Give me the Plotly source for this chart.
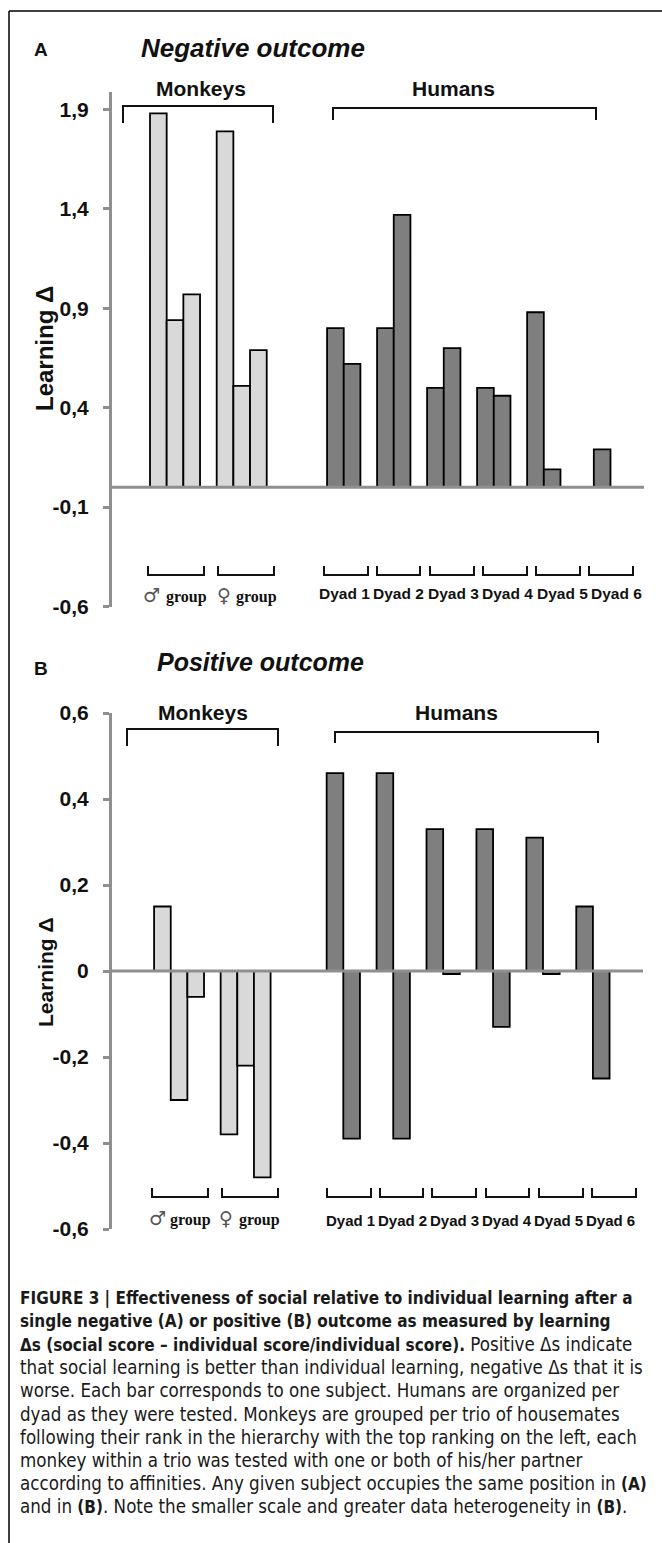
import plotly.graph_objects as go

W, H = 662, 1543

# ---------------- data ----------------
group_symbols = ["♂", "♀"]
group_word = "group"
dyad_labels = ["Dyad 1", "Dyad 2", "Dyad 3", "Dyad 4", "Dyad 5", "Dyad 6"]

# Panel A: negative outcome (learning delta)
neg_male = [1.88, 0.84, 0.97]
neg_female = [1.79, 0.51, 0.69]
neg_humans_a = [0.80, 0.80, 0.50, 0.50, 0.88, None]   # first member of each dyad
neg_humans_b = [0.62, 1.37, 0.70, 0.46, 0.09, 0.19]   # second member of each dyad

# Panel B: positive outcome
pos_male = [0.15, -0.30, -0.06]
pos_female = [-0.38, -0.22, -0.48]
pos_humans_a = [0.46, 0.46, 0.33, 0.33, 0.31, 0.15]
pos_humans_b = [-0.39, -0.39, -0.007, -0.13, -0.007, -0.25]

ticks_a_vals = [-0.6, -0.1, 0.4, 0.9, 1.4, 1.9]
ticks_a_text = ["-0,6", "-0,1", "0,4", "0,9", "1,4", "1,9"]
ticks_b_vals = [-0.6, -0.4, -0.2, 0, 0.2, 0.4, 0.6]
ticks_b_text = ["-0,6", "-0,4", "-0,2", "0", "0,2", "0,4", "0,6"]

caption_lines = [
    "<b>FIGURE 3 | Effectiveness of social relative to individual learning after a</b>",
    "<b>single negative (A) or positive (B) outcome as measured by learning</b>",
    "<b>Δs (social score – individual score/individual score).</b> Positive Δs indicate",
    "that social learning is better than individual learning, negative Δs that it is",
    "worse. Each bar corresponds to one subject. Humans are organized per",
    "dyad as they were tested. Monkeys are grouped per trio of housemates",
    "following their rank in the hierarchy with the top ranking on the left, each",
    "monkey within a trio was tested with one or both of his/her partner",
    "according to affinities. Any given subject occupies the same position in <b>(A)</b>",
    "and in <b>(B)</b>. Note the smaller scale and greater data heterogeneity in <b>(B)</b>.",
]

# ---------------- layout helpers ----------------
def px(x):
    return x / W

def py(y):
    return 1 - y / H

LIGHT = "#d9d9d9"
DARK = "#7f7f7f"
AXIS = "#8f8f8f"
SANS = "Liberation Sans, Arial, sans-serif"
SERIF = "Liberation Serif, Times New Roman, serif"
SYMBOL = "DejaVu Sans, Noto Sans, sans-serif"
NARROW = "DejaVu Sans Condensed, Liberation Sans Narrow, Liberation Sans"

X_RANGE = [-2.28, 29.63]

def monkey_x(offset):
    male = [0.5 + i + offset for i in range(3)]
    female = [4.5 + i + offset for i in range(3)]
    return male, female

def human_x(start=10.62):
    a = [start + 0.5 + 3 * k for k in range(6)]
    b = [start + 1.5 + 3 * k for k in range(6)]
    return a, b

fig = go.Figure()

def add_bars(xs, ys, color, xa, ya):
    fig.add_trace(go.Bar(
        x=xs, y=ys, width=1, xaxis=xa, yaxis=ya,
        marker=dict(color=color, line=dict(color="black", width=1.8)),
        showlegend=False, hoverinfo="skip"))

# Panel A
m_male, m_fem = monkey_x(0.0)
h_a, h_b = human_x()
add_bars(m_male + m_fem, neg_male + neg_female, LIGHT, "x", "y")
add_bars(h_a + h_b, neg_humans_a + neg_humans_b, DARK, "x", "y")

# Panel B
m_male2, m_fem2 = monkey_x(0.25)
add_bars(m_male2 + m_fem2, pos_male + pos_female, LIGHT, "x2", "y2")
add_bars(h_a + h_b, pos_humans_a + pos_humans_b, DARK, "x2", "y2")

xa_common = dict(range=X_RANGE, showgrid=False, zeroline=False, showline=False,
                 showticklabels=False, ticks="", fixedrange=True, automargin=False)
ya_common = dict(showgrid=False, zeroline=False, showline=True, linecolor=AXIS,
                 linewidth=3, ticks="outside", ticklen=6, tickwidth=3, tickcolor=AXIS,
                 tickfont=dict(family=SANS, size=21, color="#111"),
                 ticklabelstandoff=10, fixedrange=True, automargin=False)

fig.update_layout(
    width=W, height=H, autosize=False,
    margin=dict(l=0, r=0, t=0, b=0, pad=0),
    paper_bgcolor="white", plot_bgcolor="white",
    barmode="overlay",
    xaxis=dict(domain=[px(112), px(644)], anchor="y", **xa_common),
    yaxis=dict(domain=[py(606.5), py(92)], anchor="x", range=[-0.6, 1.988],
               tickmode="array", tickvals=ticks_a_vals,
               ticktext=["<b>%s</b>" % t for t in ticks_a_text], **ya_common),
    xaxis2=dict(domain=[px(112), px(643)], anchor="y2", **xa_common),
    yaxis2=dict(domain=[py(1229), py(713)], anchor="x2", range=[-0.6, 0.6],
                tickmode="array", tickvals=ticks_b_vals,
                ticktext=["<b>%s</b>" % t for t in ticks_b_text], **ya_common),
)

shapes = []
# zero lines drawn above bars
for xr, yr in (("x", "y"), ("x2", "y2")):
    shapes.append(dict(type="line", xref=xr, yref=yr, x0=X_RANGE[0], x1=X_RANGE[1],
                       y0=0, y1=0, line=dict(color=AXIS, width=3), layer="above"))

# frame
shapes.append(dict(type="line", xref="paper", yref="paper", x0=px(9), x1=px(662),
                   y0=py(11), y1=py(11), line=dict(color="black", width=1.5)))
shapes.append(dict(type="line", xref="paper", yref="paper", x0=px(9), x1=px(9),
                   y0=py(11), y1=py(1543), line=dict(color="black", width=1.5)))

def top_bracket(x0, x1, ytop, ybot):
    return dict(type="path", xref="paper", yref="paper",
                path="M %f,%f L %f,%f L %f,%f L %f,%f" % (
                    px(x0), py(ybot), px(x0), py(ytop), px(x1), py(ytop), px(x1), py(ybot)),
                line=dict(color="#111", width=2))

def bottom_bracket(x0, x1, ytop, ybot):
    return dict(type="path", xref="paper", yref="paper",
                path="M %f,%f L %f,%f L %f,%f L %f,%f" % (
                    px(x0), py(ytop), px(x0), py(ybot), px(x1), py(ybot), px(x1), py(ytop)),
                line=dict(color="#111", width=2))

shapes += [top_bracket(123, 273, 106, 123), top_bracket(333, 596, 108, 120),
           top_bracket(127, 278, 729, 746), top_bracket(335, 598, 732, 743)]

ann = []

def text(x, y, s, size, family=SANS, color="#111", angle=0, xanchor="center"):
    ann.append(dict(x=px(x), y=py(y), xref="paper", yref="paper", text=s,
                    showarrow=False, xanchor=xanchor, yanchor="middle", textangle=angle,
                    font=dict(family=family, size=size, color=color)))

grpA = [(148, 204), (218, 274)]
grpA_sym_x = [151.5, 223.5]
grpA_word_x = [186, 256.5]
dyA = [(324, 368), (377, 420), (430, 474), (483, 527), (536, 580), (589, 633)]
dyA_label_x = [344.5 + 54.4 * k for k in range(6)]

grpB = [(152, 208), (222, 278)]
grpB_sym_x = [157, 226]
grpB_word_x = [190, 259]
dyB = [(327, 371), (380, 423), (432, 476), (486, 529), (539, 583), (592, 636)]
dyB_label_x = [350.5 + 52.0 * k for k in range(6)]

for (x0, x1), sx, wx, sym in zip(grpA, grpA_sym_x, grpA_word_x, group_symbols):
    shapes.append(bottom_bracket(x0, x1, 566, 575))
    text(sx, 595, sym, 19, SYMBOL, "#555")
    text(wx, 597, "<b>" + group_word + "</b>", 16, SERIF)
for (x0, x1), lx, lab in zip(dyA, dyA_label_x, dyad_labels):
    shapes.append(bottom_bracket(x0, x1, 566, 575))
    text(lx, 593, "<b>" + lab + "</b>", 15.5)
for (x0, x1), sx, wx, sym in zip(grpB, grpB_sym_x, grpB_word_x, group_symbols):
    shapes.append(bottom_bracket(x0, x1, 1188, 1197))
    text(sx, 1218, sym, 19, SYMBOL, "#555")
    text(wx, 1220, "<b>" + group_word + "</b>", 16, SERIF)
for (x0, x1), lx, lab in zip(dyB, dyB_label_x, dyad_labels):
    shapes.append(bottom_bracket(x0, x1, 1188, 1197))
    text(lx, 1220, "<b>" + lab + "</b>", 15)

# titles
text(40.5, 49, "<b>A</b>", 19)
text(252.5, 48, "<b><i>Negative outcome</i></b>", 26)
text(201, 88, "<b>Monkeys</b>", 21)
text(454, 88, "<b>Humans</b>", 21)
text(45, 349, "<b>Learning Δ</b>", 24, angle=-90)

text(41, 668, "<b>B</b>", 19)
text(260.5, 662, "<b><i>Positive outcome</i></b>", 25)
text(203, 712, "<b>Monkeys</b>", 21)
text(456, 712, "<b>Humans</b>", 21)
text(45, 972, "<b>Learning Δ</b>", 21, angle=-90)

# caption: bold runs slightly smaller so the condensed bold fits the frame
for i, line in enumerate(caption_lines):
    line = line.replace("<b>", '<span style="font-size:17px"><b>').replace("</b>", "</b></span>")
    text(18, 1298 + 23.2 * i, line, 18.6, NARROW, "#1a1a1a", xanchor="left")

fig.update_layout(shapes=shapes, annotations=ann)

post = ("document.body.style.margin='0';document.body.style.overflow='hidden';"
        "var d=document.getElementById('{plot_id}');d.style.position='absolute';"
        "d.style.left='0px';d.style.top='0px';")
fig.write_html("out.html", post_script=post, config={"displayModeBar": False})
